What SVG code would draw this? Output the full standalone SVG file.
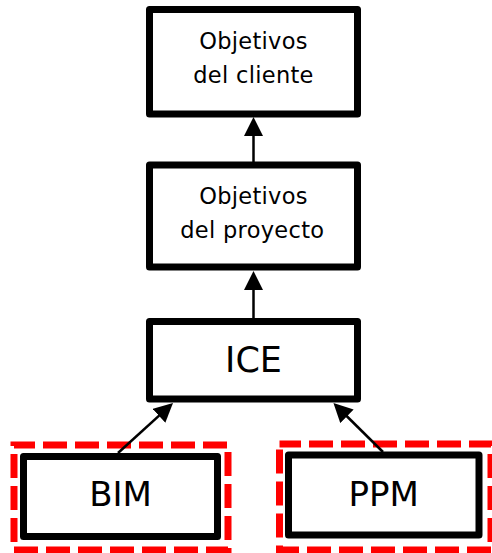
<svg xmlns="http://www.w3.org/2000/svg" width="492" height="553" viewBox="0 0 492 553">
  <style>
    .box { fill: #ffffff; stroke: #000000; stroke-width: 7; stroke-linejoin: round; }
    .group { fill: none; stroke: #ff0000; stroke-width: 7; stroke-dasharray: 24 8; }
    .edge { fill: none; stroke: #000000; stroke-width: 2.5; marker-end: url(#head); }
    .label { font-family: "DejaVu Sans", Verdana, sans-serif; fill: #000000; text-anchor: middle; }
    .small { font-size: 22.5px; letter-spacing: 0.3px; }
    .big { font-size: 34px; }
  </style>
  <defs>
    <marker id="head" markerUnits="userSpaceOnUse" markerWidth="19" markerHeight="19" refX="14" refY="9.5" orient="auto">
      <path d="M0,0 L19,9.5 L0,19 Z" fill="#000000"/>
    </marker>
  </defs>

  <rect width="492" height="553" fill="#ffffff"/>

  <!-- dashed red group frames -->
  <g id="frames">
    <rect class="group" x="14" y="445" width="214" height="105" stroke-dashoffset="3"/>
    <rect class="group" x="279.5" y="444" width="211.5" height="106" stroke-dashoffset="2.5"/>
  </g>

  <!-- connectors -->
  <g id="connectors">
    <line class="edge" x1="253.5" y1="162" x2="253.5" y2="122"/>
    <line class="edge" x1="253.5" y1="318" x2="253.5" y2="276"/>
    <line class="edge" x1="118" y1="453" x2="169.3" y2="406.4"/>
    <line class="edge" x1="383" y1="452" x2="337" y2="406.5"/>
  </g>

  <g id="objetivos-cliente">
    <rect class="box" x="149.5" y="9.5" width="208" height="104.5"/>
    <text class="label small" x="253.5" y="49">Objetivos</text>
    <text class="label small" x="253.5" y="83">del cliente</text>
  </g>

  <g id="objetivos-proyecto">
    <rect class="box" x="149.5" y="165" width="208" height="102"/>
    <text class="label small" x="253.5" y="204">Objetivos</text>
    <text class="label small" x="252.3" y="238">del proyecto</text>
  </g>

  <g id="ice">
    <rect class="box" x="149.5" y="321.5" width="208" height="77.5"/>
    <text class="label" x="253.5" y="372" font-size="35">ICE</text>
  </g>

  <g id="bim">
    <rect class="box" x="23.5" y="456.5" width="194" height="80"/>
    <text class="label big" x="120.5" y="506">BIM</text>
  </g>

  <g id="ppm">
    <rect class="box" x="288.5" y="455" width="190.5" height="80"/>
    <text class="label big" x="383.7" y="506">PPM</text>
  </g>
</svg>
